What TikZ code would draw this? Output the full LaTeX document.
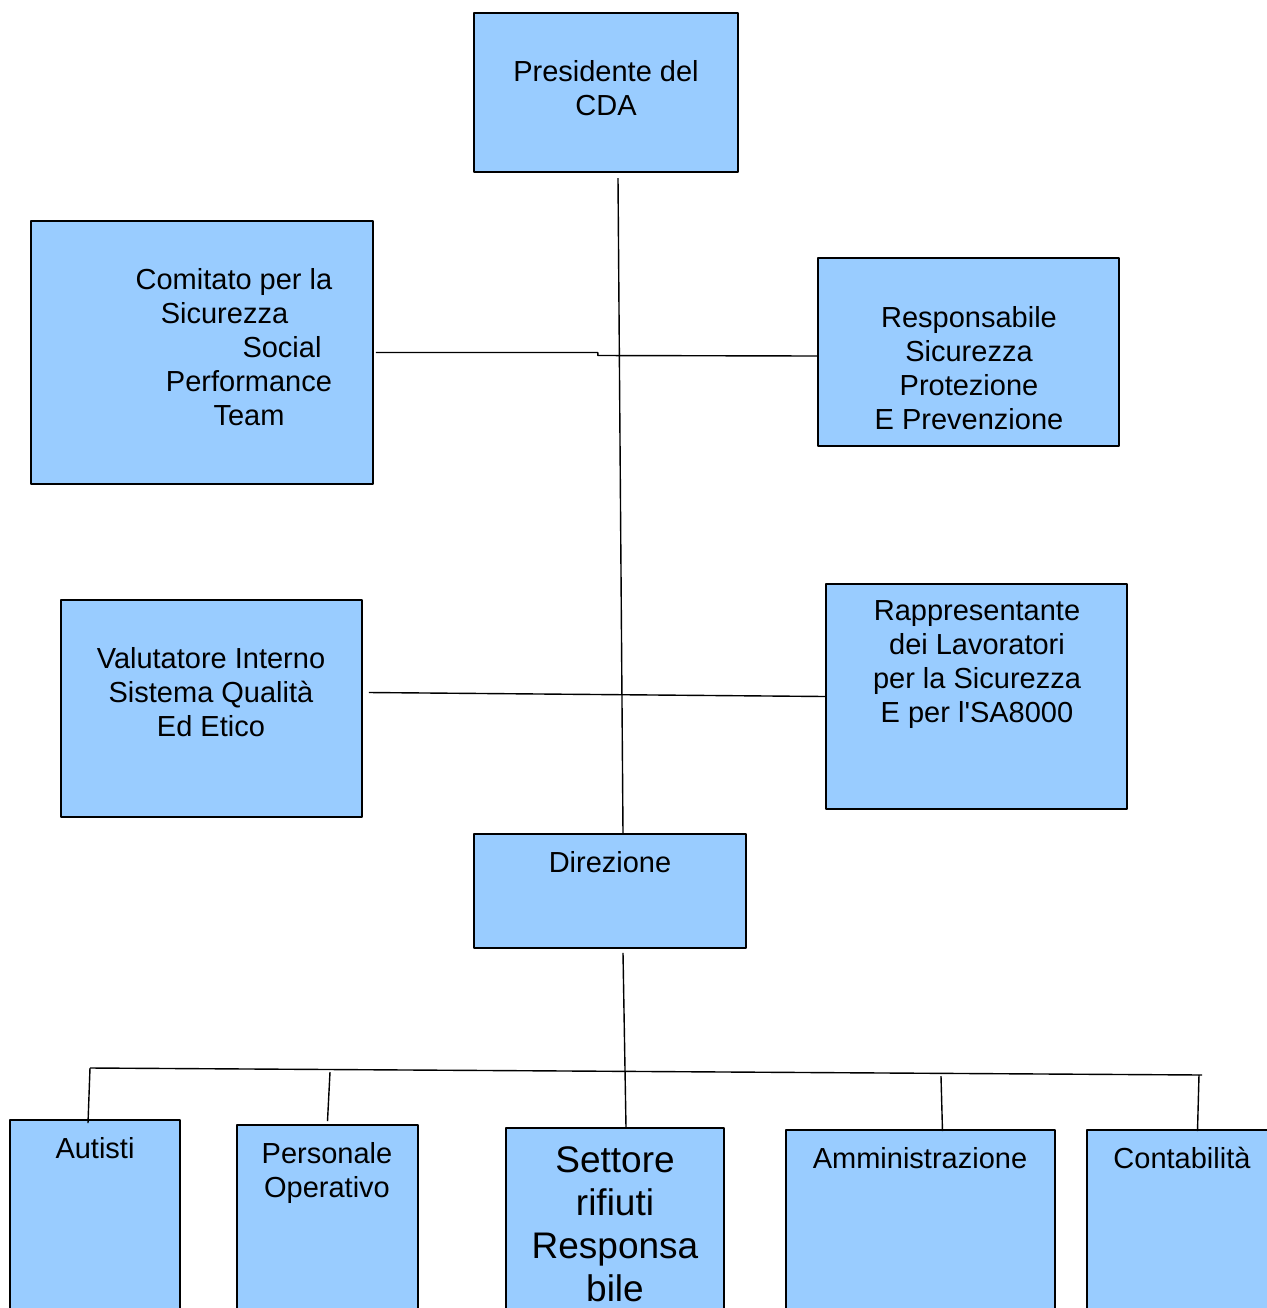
\documentclass[tikz,border=0pt]{standalone}
\usepackage{fontspec}
\setmainfont{Liberation Sans}
\definecolor{boxblue}{RGB}{153,204,255}
\begin{document}
\begin{tikzpicture}[x=0.5pt,y=-0.5pt,line join=bevel,
  unitbox/.style={draw=black,fill=boxblue,line width=0.8pt,inner sep=0pt},
  unittext/.style={anchor=north,inner sep=0pt,align=center,font=\fontsize{14.5}{17}\selectfont},
  bigtext/.style={anchor=north,inner sep=0pt,align=center,font=\fontsize{18.5}{21.5}\selectfont},
  link/.style={black,line width=0.7pt}]
\useasboundingbox (0,0) rectangle (1267,1308);
\clip (0,0) rectangle (1267,1308);
%%
\node (node_pres) at (606,92.5) [unitbox,minimum width=132pt,minimum height=79.5pt] {};
  \node (text_pres) at (606,60) [unittext] {Presidente del\\CDA};
\node (node_com) at (202,352.5) [unitbox,minimum width=171pt,minimum height=131.5pt] {};
  \node (text_com) at (249,268) [unittext] {Comitato per la\hspace*{15pt}\mbox{}\\Sicurezza\hspace*{24.5pt}\mbox{}\\\mbox{}\hspace*{33pt}Social\\Performance\\Team};
\node (node_resp) at (968.5,352) [unitbox,minimum width=150.5pt,minimum height=94pt] {};
  \node (text_resp) at (969,306) [unittext] {Responsabile\\Sicurezza\\Protezione\\E Prevenzione};
\node (node_val) at (211.5,708.5) [unitbox,minimum width=150.5pt,minimum height=108.5pt] {};
  \node (text_val) at (211,647) [unittext] {Valutatore Interno\\Sistema Qualità\\Ed Etico};
\node (node_rapp) at (976.5,696.5) [unitbox,minimum width=150.5pt,minimum height=112.5pt] {};
  \node (text_rapp) at (977,600) [unittext] {Rappresentante\\dei Lavoratori\\per la Sicurezza\\E per l\textquotesingle SA8000};
\node (node_dir) at (610,891) [unitbox,minimum width=136pt,minimum height=57pt] {};
  \node (text_dir) at (610,851) [unittext] {Direzione};
%%
\node (node_aut) at (95,1220) [unitbox,minimum width=85pt,minimum height=100pt] {};
  \node (text_aut) at (95,1137) [unittext] {Autisti};
\node (node_pers) at (327.5,1222.5) [unitbox,minimum width=90.5pt,minimum height=97.5pt] {};
  \node (text_pers) at (327,1142) [unittext] {Personale\\Operativo};
\node (node_sett) at (615,1224) [unitbox,minimum width=109pt,minimum height=96pt] {};
  \node (text_sett) at (615,1146) [bigtext] {Settore\\rifiuti\\Responsa\\bile};
\node (node_amm) at (920.5,1225) [unitbox,minimum width=134.5pt,minimum height=95pt] {};
  \node (text_amm) at (920,1147) [unittext] {Amministrazione};
\node (node_cont) at (1188.5,1225) [unitbox,minimum width=101.5pt,minimum height=95pt] {};
  \node (text_cont) at (1182,1147) [unittext] {Contabilità};
%%
\coordinate (c_top) at (618,178);
\coordinate (c_busL) at (90,1068);
\coordinate (c_busR) at (1202,1075);
\coordinate (c_pers) at (330,1072);
\coordinate (c_amm) at (941,1076);
\coordinate (c_cont) at (1199,1075);
\draw [link] (c_top) -- ([xshift=6.5pt]node_dir.north);
\draw [link] ([xshift=1pt]node_com.east) -- ++(222,0) -- ++(0,3) -- ([yshift=-2pt]node_resp.west);
\draw [link] ([xshift=3pt,yshift=8pt]node_val.east) -- (node_rapp.west);
\draw [link] ([xshift=6.5pt,yshift=-2pt]node_dir.south) -- ([xshift=5.5pt]node_sett.north);
\draw [link] (c_busL) -- (c_busR);
\draw [link] (c_busL) -- ([xshift=-3.5pt,yshift=-2pt]node_aut.north);
\draw [link] (c_pers) -- ([yshift=1.5pt]node_pers.north);
\draw [link] (c_amm) -- ([xshift=11pt,yshift=-1pt]node_amm.north);
\draw [link] (c_cont) -- ([xshift=4.5pt,yshift=-1pt]node_cont.north);
%
\end{tikzpicture}
\end{document}
